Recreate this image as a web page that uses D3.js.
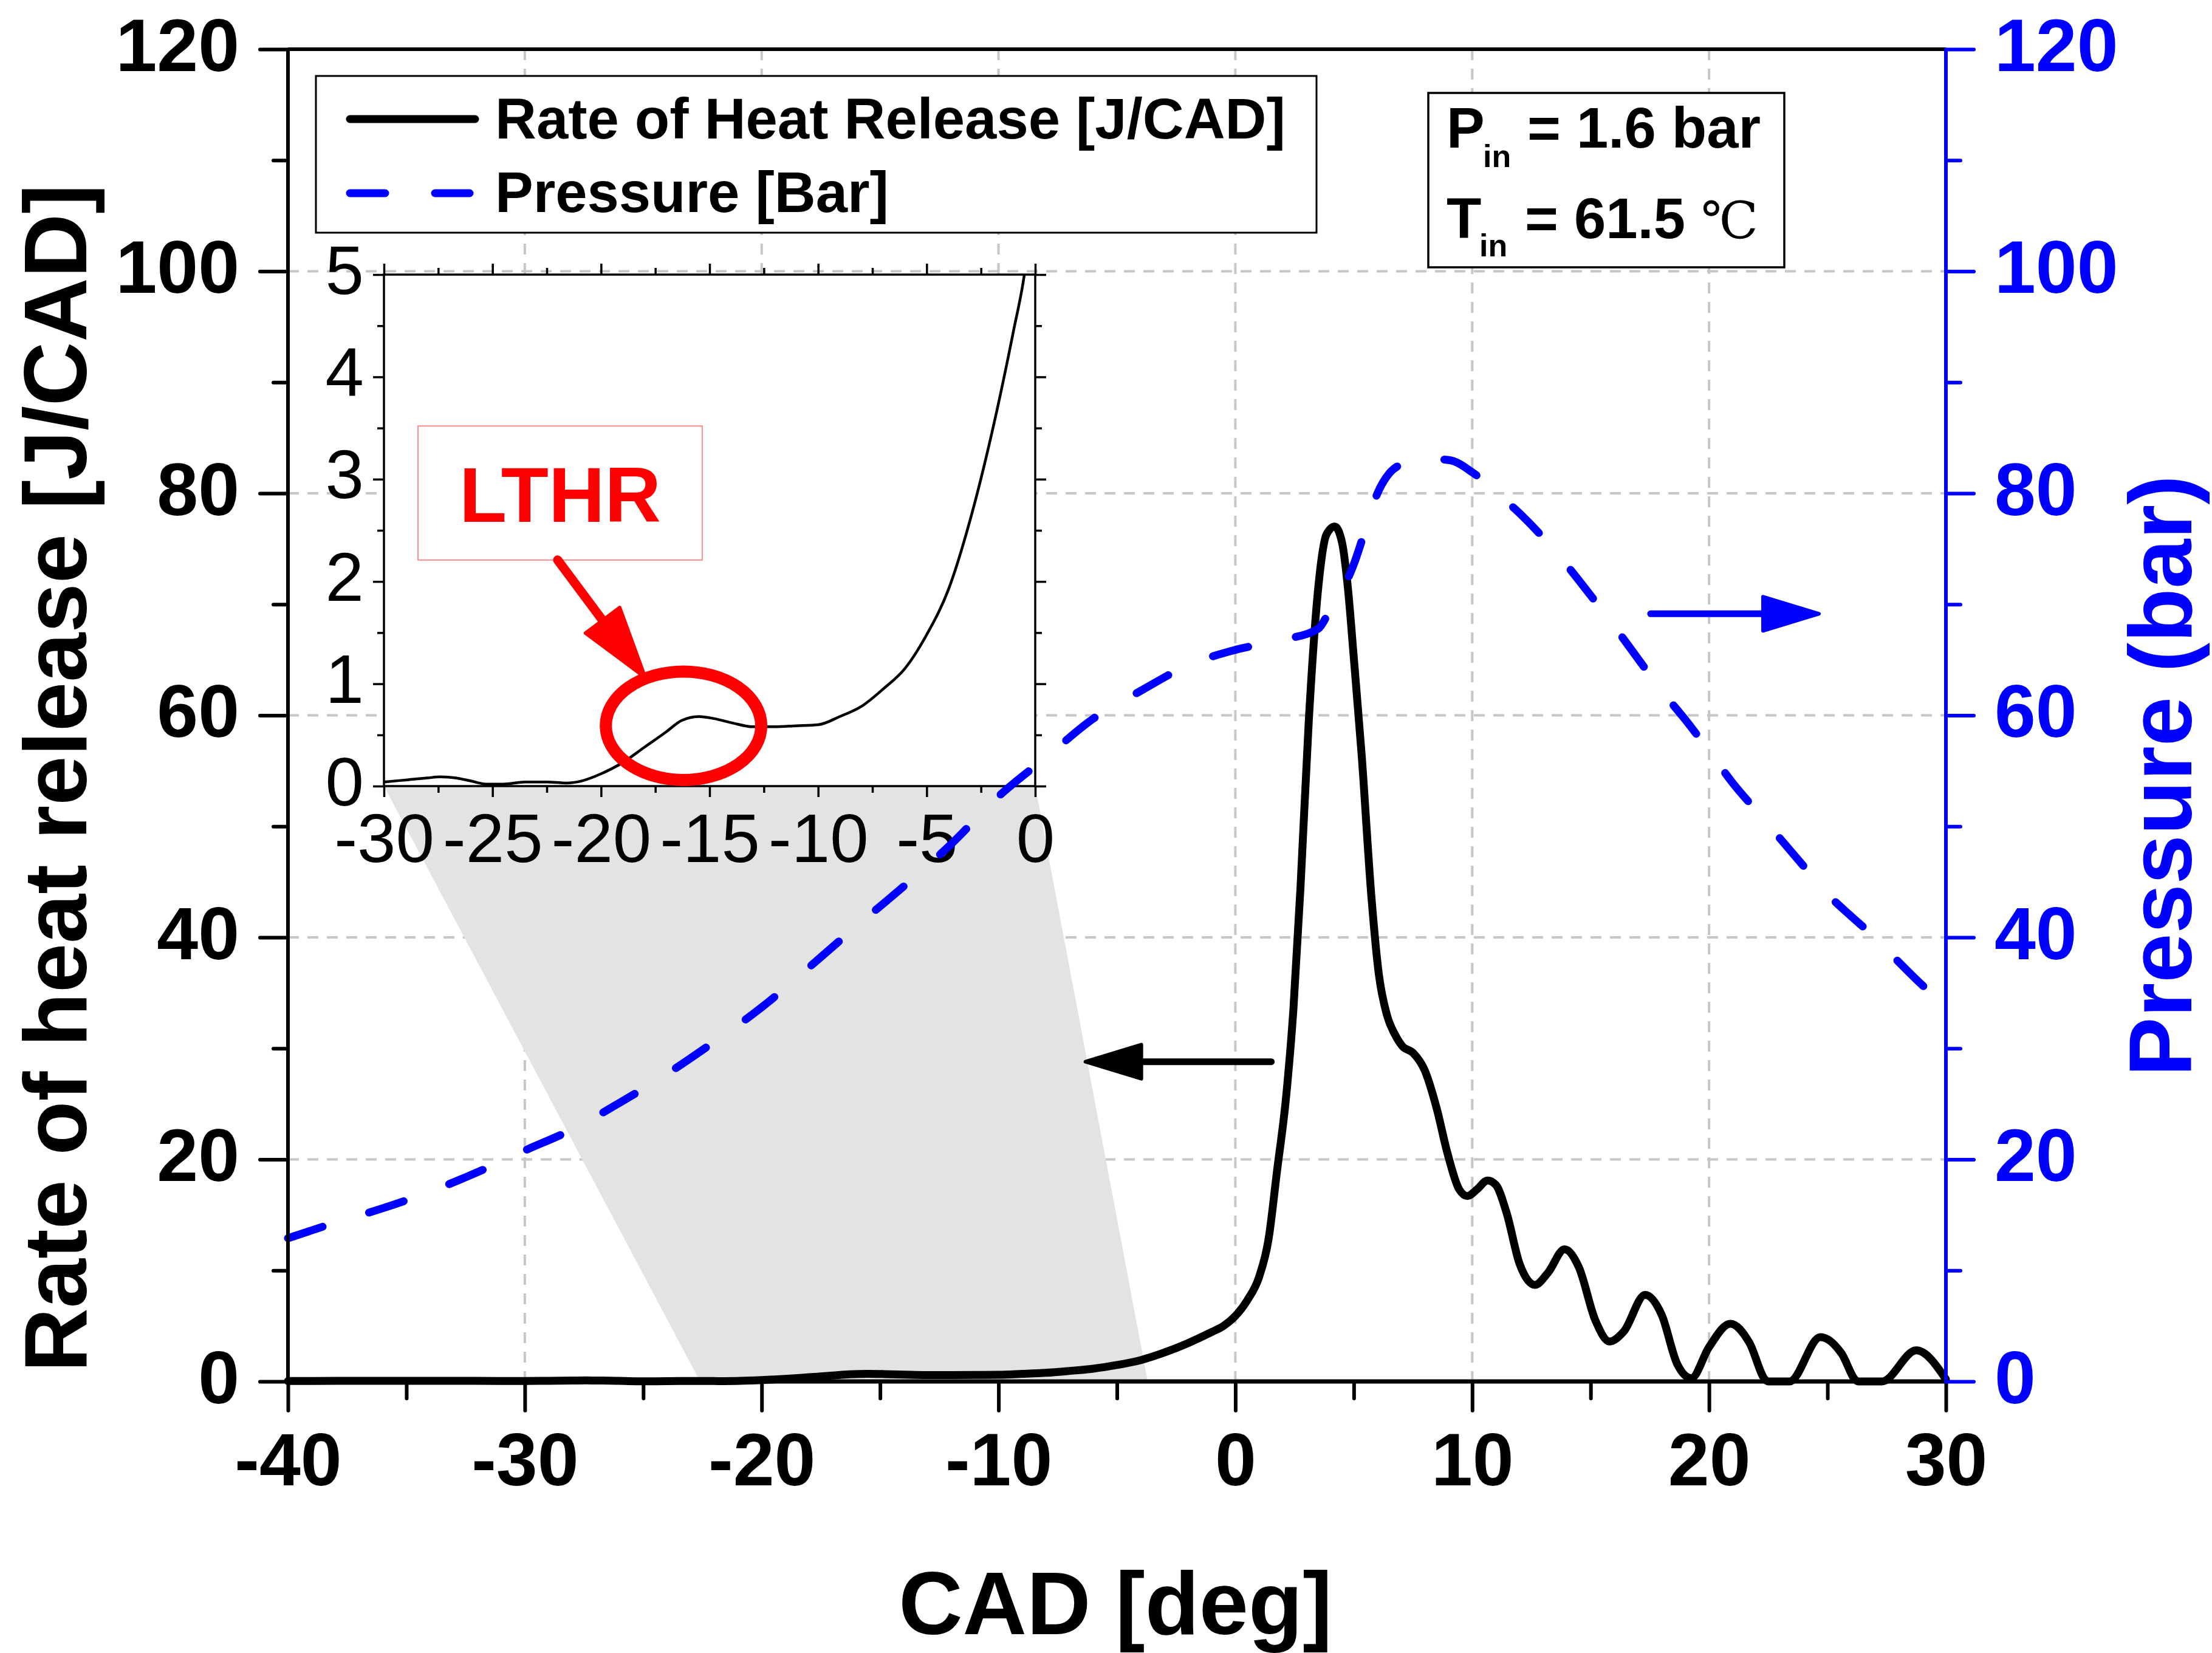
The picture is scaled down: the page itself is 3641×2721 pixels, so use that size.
<!DOCTYPE html>
<html>
<head>
<meta charset="utf-8">
<script src="https://cdn.jsdelivr.net/npm/d3@7"></script>
<style>
  html, body { margin: 0; padding: 0; background: #fff; }
  svg { display: block; }
</style>
</head>
<body>
<svg id="chart" width="3641" height="2721"></svg>
<script>
// ---- data ---------------------------------------------------------------
// Rate of heat release [J/CAD] against crank angle [deg]
const hrrCad = [-40,-38,-36,-34,-32,-30,-29,-28,-27.4,-26.7,-26,-25.3,-24.5,-23.5,-22.5,-21.6,-20.9,-20,-19,-18,-17,-16.3,-15.5,-14.8,-14,-13,-12,-11,-10,-9,-8,-7,-6,-5,-4,-3,-2,-1,-0.5,0,0.5,1,1.4,1.75,2.15,2.45,2.75,3.1,3.5,3.85,4.2,4.5,4.75,5,5.33,5.75,6.05,6.4,6.75,7.05,7.5,8,8.5,8.95,9.45,9.8,10.2,10.65,11,11.45,12,12.65,13.2,13.9,14.5,15.2,15.8,16.4,17.3,18,18.65,19.25,20,20.9,21.7,22.4,22.5,23.4,24.7,25.6,26.2,26.3,27.3,28.75,30];
const hrrValue = [0.04,0.05,0.06,0.06,0.05,0.04,0.06,0.08,0.09,0.08,0.05,0.02,0.02,0.04,0.04,0.03,0.05,0.12,0.23,0.38,0.53,0.64,0.68,0.66,0.62,0.58,0.58,0.59,0.60,0.68,0.78,0.95,1.15,1.48,1.92,2.6,3.45,4.45,5.0,5.9,7.3,9.4,12.8,18.8,25.8,33.5,44.5,59.5,71.5,76.3,77.0,75.6,71.5,65.2,56.5,43.5,36.8,33.0,31.2,30.2,29.6,28.0,24.6,20.6,17.3,16.7,17.3,18.1,17.7,15.2,10.6,8.7,9.8,11.9,10.3,5.5,3.6,4.5,7.8,6.0,1.6,0.3,3.1,5.2,3.5,0.1,0,0,4.0,2.5,0.1,0,0,2.8,0.2];

// In-cylinder pressure [bar] against crank angle [deg]
const pressureCad = [-40,-38,-36,-34,-32,-30,-28,-26,-24,-22,-20,-18,-16,-14,-12,-10,-8,-6,-4,-2,0,2,3.5,4,4.5,5,5.5,6,6.5,7,8,9,10,11,12,13,14,15,16,17,18,19,20,21,22,23,24,25,26,27,28,29,30];
const pressureValue = [12.9,14.3,15.6,17.1,18.85,20.8,22.7,25.1,27.7,30.6,33.7,37.3,41.0,44.6,48.4,52.7,56.2,59.7,62.2,64.5,65.9,66.8,67.8,69.5,71.2,73.6,76.8,80.0,81.8,82.6,83.1,83.0,81.9,80.1,78.2,76.0,73.5,70.8,68.0,65.1,62.2,59.6,56.8,53.9,51.4,48.9,46.4,43.9,41.9,40.0,37.8,35.7,33.8];

// axis ticks
const xTicks = [-40,-30,-20,-10,0,10,20,30];
const xMinorTicks = [-35,-25,-15,-5,5,15,25];
const yTicks = [0,20,40,60,80,100,120];
const yMinorTicks = [10,30,50,70,90,110];
const xGrid = [-30,-20,-10,0,10,20];
const yGrid = [20,40,60,80,100];
const insetXTicks = [-30,-25,-20,-15,-10,-5,0];
const insetXMinorTicks = [-27.5,-22.5,-17.5,-12.5,-7.5,-2.5];
const insetYTicks = [0,1,2,3,4,5];
const insetYMinorTicks = [0.5,1.5,2.5,3.5,4.5];

// text
const legendLabels = ["Rate of Heat Release [J/CAD]", "Pressure [Bar]"];
const xTitle = "CAD [deg]";
const yLeftTitle = "Rate of heat release [J/CAD]";
const yRightTitle = "Pressure (bar)";

// ---- setup --------------------------------------------------------------
const hrr = hrrCad.map((c, i) => ({ cad: c, v: hrrValue[i] }));
const pressure = pressureCad.map((c, i) => ({ cad: c, v: pressureValue[i] }));

const SANS = "'Liberation Sans', Arial, Helvetica, sans-serif";
const BLUE = "#0000ff";
const plainNumber = d => String(d);   // hyphen-minus, no trailing decimals
const svg = d3.select("#chart");

const plot = { left: 474, right: 3203, top: 81, bottom: 2274 };
const x = d3.scaleLinear().domain([-40, 30]).range([plot.left, plot.right]);
const yL = d3.scaleLinear().domain([0, 120]).range([plot.bottom, plot.top]);
const yR = d3.scaleLinear().domain([0, 120]).range([plot.bottom, plot.top]);

const inset = { left: 632, right: 1704, top: 452, bottom: 1294 };
const ix = d3.scaleLinear().domain([-30, 0]).range([inset.left, inset.right]);
const iy = d3.scaleLinear().domain([0, 5]).range([inset.bottom, inset.top]);

svg.append("rect").attr("width", 3641).attr("height", 2721).attr("fill", "#fff");

// ---- grid ---------------------------------------------------------------
const grid = svg.append("g").attr("stroke", "#c6c6c6").attr("stroke-width", 4)
  .attr("stroke-dasharray", "18,14");
grid.selectAll("line.v").data(xGrid).join("line").attr("class", "v")
  .attr("x1", d => x(d)).attr("x2", d => x(d))
  .attr("y1", plot.top).attr("y2", plot.bottom);
grid.selectAll("line.h").data(yGrid).join("line").attr("class", "h")
  .attr("x1", plot.left).attr("x2", plot.right)
  .attr("y1", d => yL(d)).attr("y2", d => yL(d));

// ---- zoom projection from the main trace to the inset --------------------
const zoomFoot = [-22.6, -3.7];
svg.append("polygon")
  .attr("points", [
    [ix(-30), iy(0)], [ix(0), iy(0)],
    [x(zoomFoot[1]), yL(0)], [x(zoomFoot[0]), yL(0)]
  ].map(p => p.join(",")).join(" "))
  .attr("fill", "#e3e3e3");

// ---- legend -------------------------------------------------------------
const legend = svg.append("g");
legend.append("rect").attr("x", 520).attr("y", 125).attr("width", 1647).attr("height", 258)
  .attr("fill", "#fff").attr("stroke", "#000").attr("stroke-width", 3);
legend.append("line").attr("x1", 576).attr("x2", 782).attr("y1", 196).attr("y2", 196)
  .attr("stroke", "#000").attr("stroke-width", 13).attr("stroke-linecap", "round");
legend.append("line").attr("x1", 576).attr("x2", 773).attr("y1", 318).attr("y2", 318)
  .attr("stroke", BLUE).attr("stroke-width", 13).attr("stroke-linecap", "round")
  .attr("stroke-dasharray", "58,82");
legend.selectAll("text").data(legendLabels).join("text")
  .attr("x", 815).attr("y", (d, i) => i === 0 ? 228 : 349)
  .attr("font-family", SANS).attr("font-weight", "bold").attr("font-size", 94)
  .text(d => d);

// ---- intake conditions box ------------------------------------------------
const info = svg.append("g").attr("font-family", SANS).attr("font-weight", "bold");
info.append("rect").attr("x", 2351).attr("y", 153).attr("width", 586).attr("height", 287)
  .attr("fill", "#fff").attr("stroke", "#000").attr("stroke-width", 3.5);
info.append("text").attr("x", 2381).attr("y", 243).attr("font-size", 94).text("P");
info.append("text").attr("x", 2441).attr("y", 275).attr("font-size", 52).text("in");
info.append("text").attr("x", 2514).attr("y", 243).attr("font-size", 94).text("= 1.6 bar");
info.append("text").attr("x", 2381).attr("y", 392).attr("font-size", 94).text("T");
info.append("text").attr("x", 2435).attr("y", 422).attr("font-size", 52).text("in");
info.append("text").attr("x", 2510).attr("y", 392).attr("font-size", 94).text("= 61.5");
info.append("text").attr("x", 2800).attr("y", 392).attr("font-size", 84)
  .attr("font-weight", "normal")
  .attr("font-family", "'DejaVu Serif', 'Liberation Serif', serif").text("\u2103");

// ---- main traces --------------------------------------------------------
const lineHRR = d3.line().x(d => x(d.cad)).y(d => yL(d.v)).curve(d3.curveMonotoneX);
const linePressure = d3.line().x(d => x(d.cad)).y(d => yR(d.v)).curve(d3.curveMonotoneX);

svg.append("path").datum(hrr).attr("d", lineHRR)
  .attr("fill", "none").attr("stroke", "#000").attr("stroke-width", 13)
  .attr("stroke-linejoin", "round").attr("stroke-linecap", "round");

// direction arrows telling which axis each trace uses
function arrow(g, x1, y1, x2, y2, color, shaft, headLen, headHalf) {
  const dx = x2 - x1, dy = y2 - y1, len = Math.hypot(dx, dy);
  const ux = dx / len, uy = dy / len, px = -uy, py = ux;
  const bx = x2 - ux * headLen, by = y2 - uy * headLen;
  g.append("line").attr("x1", x1).attr("y1", y1).attr("x2", bx).attr("y2", by)
    .attr("stroke", color).attr("stroke-width", shaft).attr("stroke-linecap", "round");
  g.append("polygon")
    .attr("points", [[x2, y2], [bx + px * headHalf, by + py * headHalf], [bx - px * headHalf, by - py * headHalf]]
      .map(p => p.join(",")).join(" "))
    .attr("fill", color).attr("stroke", color).attr("stroke-width", 6).attr("stroke-linejoin", "round");
}
const arrows = svg.append("g");
arrow(arrows, x(1.52), yL(28.8), x(-6.33), yL(28.8), "#000", 11, 92, 28);
arrow(arrows, x(17.53), yR(69.15), x(24.64), yR(69.15), BLUE, 11, 92, 28);

// ---- inset: low-temperature heat release ---------------------------------
const ins = svg.append("g");
ins.append("rect").attr("x", inset.left).attr("y", inset.top)
  .attr("width", inset.right - inset.left).attr("height", inset.bottom - inset.top)
  .attr("fill", "#fff");
svg.append("defs").append("clipPath").attr("id", "insetClip")
  .append("rect").attr("x", inset.left).attr("y", inset.top)
  .attr("width", inset.right - inset.left).attr("height", inset.bottom - inset.top);

const lineInset = d3.line().x(d => ix(d.cad)).y(d => iy(d.v)).curve(d3.curveMonotoneX);
ins.append("path").datum(hrr.filter(d => d.cad >= -30 && d.cad <= 0.5))
  .attr("d", lineInset).attr("clip-path", "url(#insetClip)")
  .attr("fill", "none").attr("stroke", "#000").attr("stroke-width", 4.5)
  .attr("stroke-linejoin", "round");

function insetAxis(axisFn, scale, ticks, size, transform, withLabels) {
  const a = axisFn(scale).tickValues(ticks).tickSize(size).tickSizeOuter(0)
    .tickFormat(withLabels ? plainNumber : "");
  const g = ins.append("g").attr("transform", transform).call(a);
  g.select(".domain").remove();
  g.selectAll(".tick line").attr("stroke", "#000").attr("stroke-width", 3.5);
  return g;
}
const ibx = insetAxis(d3.axisBottom, ix, insetXTicks, 18, `translate(0,${inset.bottom})`, true);
insetAxis(d3.axisBottom, ix, insetXMinorTicks, 11, `translate(0,${inset.bottom})`, false);
insetAxis(d3.axisTop, ix, insetXTicks, 18, `translate(0,${inset.top})`, false);
insetAxis(d3.axisTop, ix, insetXMinorTicks, 11, `translate(0,${inset.top})`, false);
const ily = insetAxis(d3.axisLeft, iy, insetYTicks, 18, `translate(${inset.left},0)`, true);
insetAxis(d3.axisLeft, iy, insetYMinorTicks, 11, `translate(${inset.left},0)`, false);
insetAxis(d3.axisRight, iy, insetYTicks, 18, `translate(${inset.right},0)`, false);
insetAxis(d3.axisRight, iy, insetYMinorTicks, 11, `translate(${inset.right},0)`, false);

ibx.selectAll(".tick text").attr("y", 125).attr("dy", null)
  .attr("font-family", SANS).attr("font-size", 114).attr("fill", "#000");
ily.selectAll(".tick text").attr("x", -33).attr("dy", 31)
  .attr("font-family", SANS).attr("font-size", 114).attr("fill", "#000");

ins.append("rect").attr("x", inset.left).attr("y", inset.top)
  .attr("width", inset.right - inset.left).attr("height", inset.bottom - inset.top)
  .attr("fill", "none").attr("stroke", "#000").attr("stroke-width", 3.5);

// LTHR callout
const RED = "#ff0000";
ins.append("rect")
  .attr("x", ix(-28.43)).attr("y", iy(3.52))
  .attr("width", ix(-15.34) - ix(-28.43)).attr("height", iy(2.21) - iy(3.52))
  .attr("fill", "#fff").attr("stroke", "#ff8a8a").attr("stroke-width", 2);
ins.append("text").attr("x", (ix(-28.43) + ix(-15.34)) / 2).attr("y", 859)
  .attr("text-anchor", "middle").attr("font-family", SANS).attr("font-weight", "bold")
  .attr("font-size", 128).attr("fill", RED).text("LTHR");
arrow(ins, ix(-22.0), iy(2.21), ix(-17.97), iy(1.063), RED, 15, 117, 35);
ins.append("ellipse").attr("cx", ix(-16.2)).attr("cy", iy(0.59))
  .attr("rx", ix(-16.2 + 3.58) - ix(-16.2)).attr("ry", iy(0) - iy(0.53))
  .attr("fill", "none").attr("stroke", RED).attr("stroke-width", 20);

// ---- pressure trace (drawn over everything inside the frame) ------------
svg.append("path").datum(pressure).attr("d", linePressure)
  .attr("fill", "none").attr("stroke", BLUE).attr("stroke-width", 13)
  .attr("stroke-linecap", "round").attr("stroke-linejoin", "round")
  .attr("stroke-dasharray", "60,80");

// ---- main axes ----------------------------------------------------------
function mainAxis(axisFn, scale, ticks, size, transform, color, withLabels) {
  const a = axisFn(scale).tickValues(ticks).tickSize(size).tickSizeOuter(0)
    .tickFormat(withLabels ? plainNumber : "");
  const g = svg.append("g").attr("transform", transform).call(a);
  g.select(".domain").remove();
  g.selectAll(".tick line").attr("stroke", color).attr("stroke-width", 6)
    .attr("stroke-linecap", "round");
  g.selectAll(".tick text").attr("font-family", SANS).attr("font-weight", "bold")
    .attr("font-size", 122).attr("fill", color);
  return g;
}
// frame
svg.append("line").attr("x1", plot.left).attr("x2", plot.right).attr("y1", plot.top).attr("y2", plot.top)
  .attr("stroke", "#000").attr("stroke-width", 6);
svg.append("line").attr("x1", plot.left).attr("x2", plot.right).attr("y1", plot.bottom).attr("y2", plot.bottom)
  .attr("stroke", "#000").attr("stroke-width", 7);
svg.append("line").attr("x1", plot.left).attr("x2", plot.left).attr("y1", plot.top).attr("y2", plot.bottom)
  .attr("stroke", "#000").attr("stroke-width", 6);
svg.append("line").attr("x1", plot.right).attr("x2", plot.right).attr("y1", plot.top).attr("y2", plot.bottom)
  .attr("stroke", BLUE).attr("stroke-width", 6);

const gx = mainAxis(d3.axisBottom, x, xTicks, 48, `translate(0,${plot.bottom})`, "#000", true);
gx.selectAll(".tick text").attr("y", 171).attr("dy", null);
mainAxis(d3.axisBottom, x, xMinorTicks, 28, `translate(0,${plot.bottom})`, "#000", false);

const gyl = mainAxis(d3.axisLeft, yL, yTicks, 46, `translate(${plot.left},0)`, "#000", true);
gyl.selectAll(".tick text").attr("x", -80).attr("dy", 35);
mainAxis(d3.axisLeft, yL, yMinorTicks, 24, `translate(${plot.left},0)`, "#000", false);

const gyr = mainAxis(d3.axisRight, yR, yTicks, 46, `translate(${plot.right},0)`, BLUE, true);
gyr.selectAll(".tick text").attr("x", 80).attr("dy", 35);
mainAxis(d3.axisRight, yR, yMinorTicks, 24, `translate(${plot.right},0)`, BLUE, false);

// ---- titles -------------------------------------------------------------
svg.append("text").attr("x", 1836).attr("y", 2690).attr("text-anchor", "middle")
  .attr("font-family", SANS).attr("font-weight", "bold").attr("font-size", 146)
  .text(xTitle);
svg.append("text").attr("transform", "translate(142,1281) rotate(-90)")
  .attr("text-anchor", "middle").attr("font-family", SANS).attr("font-weight", "bold")
  .attr("font-size", 146).text(yLeftTitle);
svg.append("text").attr("transform", "translate(3607,1277) rotate(-90)")
  .attr("text-anchor", "middle").attr("font-family", SANS).attr("font-weight", "bold")
  .attr("font-size", 146).attr("fill", BLUE).text(yRightTitle);
</script>
</body>
</html>
